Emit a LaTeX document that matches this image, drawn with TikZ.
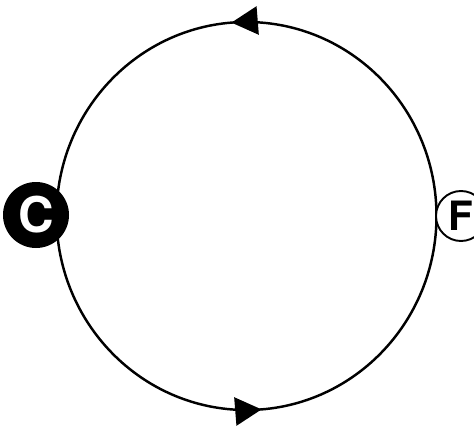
\documentclass[tikz,border=0pt]{standalone}
\usepackage{fontspec}
\setsansfont{TeX Gyre Heros}
\usetikzlibrary{arrows.meta,decorations.markings}

\begin{document}
\begin{tikzpicture}[x=0.02cm,y=0.02cm,>=Triangle,
  ring/.style={line width=1.4pt},
  midarrow/.style={postaction={decorate},decoration={markings,
    mark=at position #1 with {\arrow{Triangle[length=15pt,width=16pt]}}}},
  cbox/.style={circle,fill=black,text=white,inner sep=0pt,
    font=\sffamily\bfseries\fontsize{28}{28}\selectfont},
  fbox/.style={circle,draw,line width=1.1pt,fill=white,inner sep=0pt,
    font=\sffamily\bfseries\fontsize{23}{23}\selectfont}]
\useasboundingbox (0,0) rectangle (474,427);
\coordinate (ctr) at (246.5,211);
\coordinate (east) at (436.5,211);
\coordinate (west) at (56.5,211);
% cycle
\draw[ring,midarrow=0.525] (east) arc[start angle=0,end angle=180,x radius=190,y radius=194];
\draw[ring,midarrow=0.525] (west) arc[start angle=180,end angle=360,x radius=190,y radius=194];
\node[cbox,minimum size=66*0.02cm] (C) at (36,212) {C};
\node[fbox,minimum size=50*0.02cm] (F) at (461,211) {F};
\end{tikzpicture}
\end{document}
